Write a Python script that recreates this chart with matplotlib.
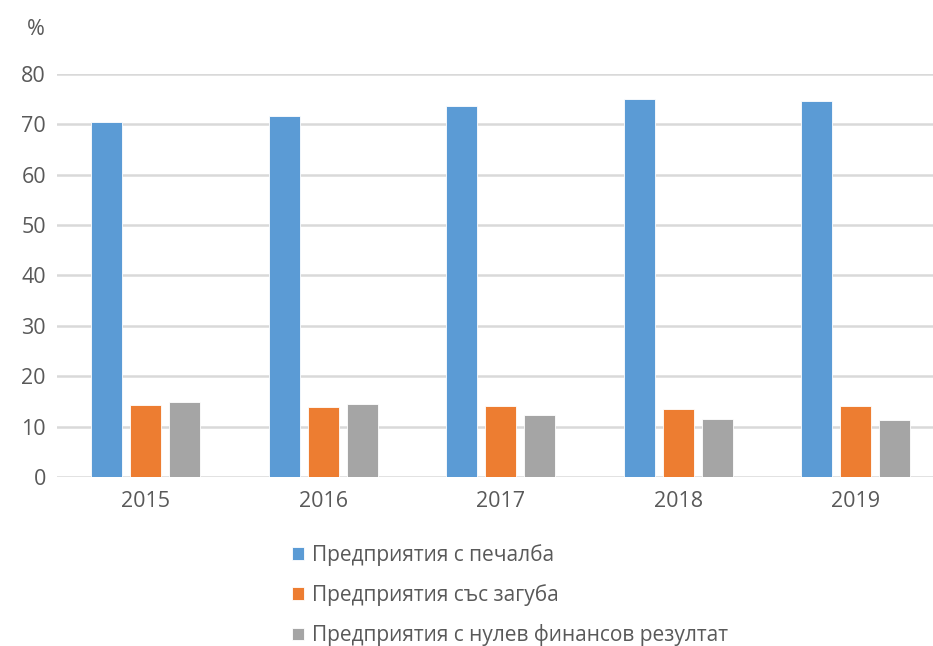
import numpy as np
import matplotlib.pyplot as plt

plt.rcParams['font.family'] = ['Open Sans', 'DejaVu Sans']

# данни
years = ['2015', '2016', '2017', '2018', '2019']
profit = [70.5, 71.6, 73.6, 74.9, 74.6]
loss = [14.3, 13.8, 14.1, 13.5, 14.0]
zero = [14.9, 14.5, 12.3, 11.5, 11.3]
labels = ['Предприятия с печалба', 'Предприятия със загуба',
          'Предприятия с нулев финансов резултат']
colors = ['#5B9BD5', '#ED7D31', '#A5A5A5']

fig = plt.figure(figsize=(9.33, 6.46), dpi=100)
ax = fig.add_axes([0.0611, 0.2616, 0.9389, 0.6243])

x = np.arange(len(years))
w = 0.175
step = 0.22
bars = []
for i, (vals, c) in enumerate(zip([profit, loss, zero], colors)):
    b = ax.bar(x + (i - 1) * step, vals, width=w, color=c,
               edgecolor='white', linewidth=0.6, zorder=3)
    bars.append(b)

ax.set_xlim(-0.5, 4.435)
ax.set_ylim(0, 80)
ax.set_yticks(np.arange(0, 81, 10))
ax.set_xticks(x)
ax.set_xticklabels(years)
ax.yaxis.grid(True, color='#d9d9d9', linewidth=1.8, zorder=0)
for s in ax.spines.values():
    s.set_visible(False)
ax.tick_params(axis='both', length=0, labelsize=15.5, colors='#595959')
ax.tick_params(axis='y', pad=8)
ax.tick_params(axis='x', pad=10)

fig.text(0.038, 0.955, '%', fontsize=15.5, color='#595959', ha='center', va='center')

fig.legend(bars, labels, loc='upper left', bbox_to_anchor=(0.313, 0.158),
           frameon=False, fontsize=15, labelcolor='#595959',
           handlelength=0.58, handleheight=0.58, handletextpad=0.38,
           labelspacing=0.88, borderaxespad=0, borderpad=0)

plt.savefig('out.png', dpi=100)
